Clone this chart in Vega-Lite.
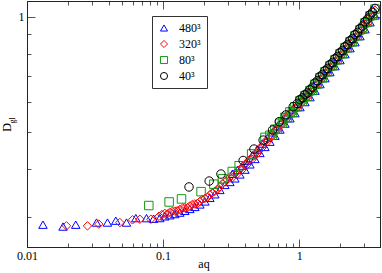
{
  "$schema": "https://vega.github.io/schema/vega-lite/v6.json",
  "width": 353,
  "height": 246,
  "autosize": {"type": "none"},
  "padding": {"left": 27, "top": 1, "right": 2, "bottom": 26},
  "background": "white",
  "config": {
    "view": {"stroke": "#222", "strokeWidth": 1},
    "font": "Liberation Serif",
    "axis": {
      "labelFont": "Liberation Serif",
      "labelFontSize": 12,
      "labelColor": "#000",
      "titleFont": "Liberation Serif",
      "titleFontSize": 12,
      "titleFontWeight": "normal",
      "titleColor": "#000",
      "domainColor": "#222",
      "tickColor": "#555",
      "grid": false
    }
  },
  "data": {
    "values": [
      {"L": "480³", "aq": 0.0131, "D": 0.287},
      {"L": "480³", "aq": 0.0184, "D": 0.2838},
      {"L": "480³", "aq": 0.0228, "D": 0.287},
      {"L": "480³", "aq": 0.0324, "D": 0.2907},
      {"L": "480³", "aq": 0.039, "D": 0.2907},
      {"L": "480³", "aq": 0.0449, "D": 0.294},
      {"L": "480³", "aq": 0.0538, "D": 0.2907},
      {"L": "480³", "aq": 0.063, "D": 0.2985},
      {"L": "480³", "aq": 0.0755, "D": 0.2985},
      {"L": "480³", "aq": 0.085, "D": 0.2975},
      {"L": "480³", "aq": 0.0946, "D": 0.2986},
      {"L": "480³", "aq": 0.1029, "D": 0.3017},
      {"L": "480³", "aq": 0.112, "D": 0.3037},
      {"L": "480³", "aq": 0.1219, "D": 0.3059},
      {"L": "480³", "aq": 0.1327, "D": 0.3086},
      {"L": "480³", "aq": 0.1444, "D": 0.3118},
      {"L": "480³", "aq": 0.1572, "D": 0.3154},
      {"L": "480³", "aq": 0.171, "D": 0.3193},
      {"L": "480³", "aq": 0.1862, "D": 0.3241},
      {"L": "480³", "aq": 0.2026, "D": 0.33},
      {"L": "480³", "aq": 0.2205, "D": 0.3371},
      {"L": "480³", "aq": 0.2399, "D": 0.3445},
      {"L": "480³", "aq": 0.2611, "D": 0.3536},
      {"L": "480³", "aq": 0.2842, "D": 0.3644},
      {"L": "480³", "aq": 0.3093, "D": 0.3709},
      {"L": "480³", "aq": 0.3227, "D": 0.3896},
      {"L": "480³", "aq": 0.3366, "D": 0.379},
      {"L": "480³", "aq": 0.3511, "D": 0.3986},
      {"L": "480³", "aq": 0.3664, "D": 0.3881},
      {"L": "480³", "aq": 0.3822, "D": 0.4091},
      {"L": "480³", "aq": 0.3988, "D": 0.3994},
      {"L": "480³", "aq": 0.416, "D": 0.4217},
      {"L": "480³", "aq": 0.434, "D": 0.4123},
      {"L": "480³", "aq": 0.4528, "D": 0.4355},
      {"L": "480³", "aq": 0.4723, "D": 0.4259},
      {"L": "480³", "aq": 0.4927, "D": 0.4507},
      {"L": "480³", "aq": 0.514, "D": 0.4415},
      {"L": "480³", "aq": 0.5362, "D": 0.4672},
      {"L": "480³", "aq": 0.5594, "D": 0.4578},
      {"L": "480³", "aq": 0.5836, "D": 0.4832},
      {"L": "480³", "aq": 0.6088, "D": 0.4724},
      {"L": "480³", "aq": 0.6351, "D": 0.4998},
      {"L": "480³", "aq": 0.6626, "D": 0.4897},
      {"L": "480³", "aq": 0.6912, "D": 0.5184},
      {"L": "480³", "aq": 0.7211, "D": 0.5083},
      {"L": "480³", "aq": 0.7522, "D": 0.5377},
      {"L": "480³", "aq": 0.7848, "D": 0.5267},
      {"L": "480³", "aq": 0.8187, "D": 0.556},
      {"L": "480³", "aq": 0.8541, "D": 0.5436},
      {"L": "480³", "aq": 0.891, "D": 0.5738},
      {"L": "480³", "aq": 0.9297, "D": 0.5608},
      {"L": "480³", "aq": 0.9699, "D": 0.5935},
      {"L": "480³", "aq": 1.0118, "D": 0.5816},
      {"L": "480³", "aq": 1.0555, "D": 0.6135},
      {"L": "480³", "aq": 1.1011, "D": 0.5993},
      {"L": "480³", "aq": 1.1487, "D": 0.6321},
      {"L": "480³", "aq": 1.1984, "D": 0.6174},
      {"L": "480³", "aq": 1.2502, "D": 0.6542},
      {"L": "480³", "aq": 1.3043, "D": 0.6419},
      {"L": "480³", "aq": 1.3607, "D": 0.6803},
      {"L": "480³", "aq": 1.4195, "D": 0.6676},
      {"L": "480³", "aq": 1.4808, "D": 0.7062},
      {"L": "480³", "aq": 1.5453, "D": 0.6919},
      {"L": "480³", "aq": 1.6121, "D": 0.7321},
      {"L": "480³", "aq": 1.6818, "D": 0.7174},
      {"L": "480³", "aq": 1.7544, "D": 0.759},
      {"L": "480³", "aq": 1.8302, "D": 0.7437},
      {"L": "480³", "aq": 1.9093, "D": 0.7869},
      {"L": "480³", "aq": 1.992, "D": 0.7712},
      {"L": "480³", "aq": 2.0781, "D": 0.8159},
      {"L": "480³", "aq": 2.1677, "D": 0.7993},
      {"L": "480³", "aq": 2.2613, "D": 0.8456},
      {"L": "480³", "aq": 2.3595, "D": 0.8285},
      {"L": "480³", "aq": 2.4614, "D": 0.8766},
      {"L": "480³", "aq": 2.5677, "D": 0.8589},
      {"L": "480³", "aq": 2.6786, "D": 0.9088},
      {"L": "480³", "aq": 2.7943, "D": 0.8905},
      {"L": "480³", "aq": 2.915, "D": 0.9607},
      {"L": "480³", "aq": 3.0412, "D": 0.9283},
      {"L": "480³", "aq": 3.1726, "D": 1.0017},
      {"L": "480³", "aq": 3.3105, "D": 0.9681},
      {"L": "480³", "aq": 3.4535, "D": 1.0443},
      {"L": "480³", "aq": 3.6028, "D": 1.0088},

      {"L": "320³", "aq": 0.0195, "D": 0.285},
      {"L": "320³", "aq": 0.0278, "D": 0.285},
      {"L": "320³", "aq": 0.0337, "D": 0.288},
      {"L": "320³", "aq": 0.0481, "D": 0.2907},
      {"L": "320³", "aq": 0.0596, "D": 0.2955},
      {"L": "320³", "aq": 0.0675, "D": 0.2965},
      {"L": "320³", "aq": 0.0813, "D": 0.2965},
      {"L": "320³", "aq": 0.0932, "D": 0.302},
      {"L": "320³", "aq": 0.098, "D": 0.305},
      {"L": "320³", "aq": 0.1029, "D": 0.3072},
      {"L": "320³", "aq": 0.107, "D": 0.306},
      {"L": "320³", "aq": 0.112, "D": 0.3093},
      {"L": "320³", "aq": 0.117, "D": 0.311},
      {"L": "320³", "aq": 0.1219, "D": 0.3115},
      {"L": "320³", "aq": 0.127, "D": 0.312},
      {"L": "320³", "aq": 0.1327, "D": 0.3143},
      {"L": "320³", "aq": 0.139, "D": 0.317},
      {"L": "320³", "aq": 0.1444, "D": 0.3175},
      {"L": "320³", "aq": 0.151, "D": 0.318},
      {"L": "320³", "aq": 0.1572, "D": 0.3212},
      {"L": "320³", "aq": 0.164, "D": 0.324},
      {"L": "320³", "aq": 0.171, "D": 0.3251},
      {"L": "320³", "aq": 0.178, "D": 0.326},
      {"L": "320³", "aq": 0.1862, "D": 0.33},
      {"L": "320³", "aq": 0.194, "D": 0.334},
      {"L": "320³", "aq": 0.2026, "D": 0.336},
      {"L": "320³", "aq": 0.211, "D": 0.338},
      {"L": "320³", "aq": 0.2205, "D": 0.3433},
      {"L": "320³", "aq": 0.23, "D": 0.348},
      {"L": "320³", "aq": 0.2399, "D": 0.3508},
      {"L": "320³", "aq": 0.25, "D": 0.354},
      {"L": "320³", "aq": 0.2611, "D": 0.3601},
      {"L": "320³", "aq": 0.272, "D": 0.367},
      {"L": "320³", "aq": 0.2842, "D": 0.3711},
      {"L": "320³", "aq": 0.296, "D": 0.376},
      {"L": "320³", "aq": 0.3093, "D": 0.3824},
      {"L": "320³", "aq": 0.3227, "D": 0.3807},
      {"L": "320³", "aq": 0.3366, "D": 0.3907},
      {"L": "320³", "aq": 0.3511, "D": 0.3895},
      {"L": "320³", "aq": 0.3664, "D": 0.4001},
      {"L": "320³", "aq": 0.3822, "D": 0.3998},
      {"L": "320³", "aq": 0.3988, "D": 0.4118},
      {"L": "320³", "aq": 0.416, "D": 0.4121},
      {"L": "320³", "aq": 0.434, "D": 0.4251},
      {"L": "320³", "aq": 0.4528, "D": 0.4255},
      {"L": "320³", "aq": 0.4723, "D": 0.4391},
      {"L": "320³", "aq": 0.4927, "D": 0.4404},
      {"L": "320³", "aq": 0.514, "D": 0.4552},
      {"L": "320³", "aq": 0.5362, "D": 0.4566},
      {"L": "320³", "aq": 0.5594, "D": 0.472},
      {"L": "320³", "aq": 0.5836, "D": 0.4722},
      {"L": "320³", "aq": 0.6088, "D": 0.487},
      {"L": "320³", "aq": 0.6351, "D": 0.4884},
      {"L": "320³", "aq": 0.6626, "D": 0.5048},
      {"L": "320³", "aq": 0.6912, "D": 0.5066},
      {"L": "320³", "aq": 0.7211, "D": 0.524},
      {"L": "320³", "aq": 0.7522, "D": 0.5254},
      {"L": "320³", "aq": 0.7848, "D": 0.543},
      {"L": "320³", "aq": 0.8187, "D": 0.5433},
      {"L": "320³", "aq": 0.8541, "D": 0.5604},
      {"L": "320³", "aq": 0.891, "D": 0.5607},
      {"L": "320³", "aq": 0.9297, "D": 0.5781},
      {"L": "320³", "aq": 0.9699, "D": 0.58},
      {"L": "320³", "aq": 1.0118, "D": 0.5996},
      {"L": "320³", "aq": 1.0555, "D": 0.5995},
      {"L": "320³", "aq": 1.1011, "D": 0.6178},
      {"L": "320³", "aq": 1.1487, "D": 0.6177},
      {"L": "320³", "aq": 1.1984, "D": 0.6365},
      {"L": "320³", "aq": 1.2502, "D": 0.6393},
      {"L": "320³", "aq": 1.3043, "D": 0.6618},
      {"L": "320³", "aq": 1.3607, "D": 0.6648},
      {"L": "320³", "aq": 1.4195, "D": 0.6882},
      {"L": "320³", "aq": 1.4808, "D": 0.6901},
      {"L": "320³", "aq": 1.5453, "D": 0.7133},
      {"L": "320³", "aq": 1.6121, "D": 0.7154},
      {"L": "320³", "aq": 1.6818, "D": 0.7396},
      {"L": "320³", "aq": 1.7544, "D": 0.7417},
      {"L": "320³", "aq": 1.8302, "D": 0.7667},
      {"L": "320³", "aq": 1.9093, "D": 0.769},
      {"L": "320³", "aq": 1.992, "D": 0.795},
      {"L": "320³", "aq": 2.0781, "D": 0.7973},
      {"L": "320³", "aq": 2.1677, "D": 0.824},
      {"L": "320³", "aq": 2.2613, "D": 0.8263},
      {"L": "320³", "aq": 2.3595, "D": 0.8541},
      {"L": "320³", "aq": 2.4614, "D": 0.8566},
      {"L": "320³", "aq": 2.5677, "D": 0.8855},
      {"L": "320³", "aq": 2.6786, "D": 0.8881},
      {"L": "320³", "aq": 2.7943, "D": 0.918},
      {"L": "320³", "aq": 2.915, "D": 0.9232},
      {"L": "320³", "aq": 3.0412, "D": 0.957},
      {"L": "320³", "aq": 3.1726, "D": 0.9627},
      {"L": "320³", "aq": 3.3105, "D": 0.998},
      {"L": "320³", "aq": 3.4535, "D": 1.0035},
      {"L": "320³", "aq": 3.6028, "D": 1.04},

      {"L": "80³", "aq": 0.0785, "D": 0.322},
      {"L": "80³", "aq": 0.1107, "D": 0.329},
      {"L": "80³", "aq": 0.1365, "D": 0.335},
      {"L": "80³", "aq": 0.19, "D": 0.35},
      {"L": "80³", "aq": 0.236, "D": 0.366},
      {"L": "80³", "aq": 0.273, "D": 0.378},
      {"L": "80³", "aq": 0.322, "D": 0.395},
      {"L": "80³", "aq": 0.362, "D": 0.409},
      {"L": "80³", "aq": 0.447, "D": 0.439},
      {"L": "80³", "aq": 0.56, "D": 0.485},
      {"L": "80³", "aq": 0.6088, "D": 0.491},
      {"L": "80³", "aq": 0.6351, "D": 0.4909},
      {"L": "80³", "aq": 0.6626, "D": 0.509},
      {"L": "80³", "aq": 0.6912, "D": 0.5092},
      {"L": "80³", "aq": 0.7211, "D": 0.528},
      {"L": "80³", "aq": 0.7522, "D": 0.5281},
      {"L": "80³", "aq": 0.7848, "D": 0.547},
      {"L": "80³", "aq": 0.8187, "D": 0.5461},
      {"L": "80³", "aq": 0.8541, "D": 0.565},
      {"L": "80³", "aq": 0.891, "D": 0.5635},
      {"L": "80³", "aq": 0.9297, "D": 0.583},
      {"L": "80³", "aq": 0.9699, "D": 0.5829},
      {"L": "80³", "aq": 1.0118, "D": 0.604},
      {"L": "80³", "aq": 1.0555, "D": 0.6025},
      {"L": "80³", "aq": 1.1011, "D": 0.623},
      {"L": "80³", "aq": 1.1487, "D": 0.6208},
      {"L": "80³", "aq": 1.1984, "D": 0.642},
      {"L": "80³", "aq": 1.2502, "D": 0.6425},
      {"L": "80³", "aq": 1.3043, "D": 0.667},
      {"L": "80³", "aq": 1.3607, "D": 0.6682},
      {"L": "80³", "aq": 1.4195, "D": 0.694},
      {"L": "80³", "aq": 1.4808, "D": 0.6936},
      {"L": "80³", "aq": 1.5453, "D": 0.719},
      {"L": "80³", "aq": 1.6121, "D": 0.719},
      {"L": "80³", "aq": 1.6818, "D": 0.745},
      {"L": "80³", "aq": 1.7544, "D": 0.7455},
      {"L": "80³", "aq": 1.8302, "D": 0.773},
      {"L": "80³", "aq": 1.9093, "D": 0.7729},
      {"L": "80³", "aq": 1.992, "D": 0.801},
      {"L": "80³", "aq": 2.0781, "D": 0.8013},
      {"L": "80³", "aq": 2.1677, "D": 0.831},
      {"L": "80³", "aq": 2.2613, "D": 0.8305},
      {"L": "80³", "aq": 2.3595, "D": 0.861},
      {"L": "80³", "aq": 2.4614, "D": 0.8609},
      {"L": "80³", "aq": 2.5677, "D": 0.893},
      {"L": "80³", "aq": 2.6786, "D": 0.8926},
      {"L": "80³", "aq": 2.7943, "D": 0.925},
      {"L": "80³", "aq": 2.915, "D": 0.9279},
      {"L": "80³", "aq": 3.0412, "D": 0.965},
      {"L": "80³", "aq": 3.1726, "D": 0.9675},
      {"L": "80³", "aq": 3.3105, "D": 1.006},
      {"L": "80³", "aq": 3.4535, "D": 1.0086},
      {"L": "80³", "aq": 3.6028, "D": 1.048},

      {"L": "40³", "aq": 0.155, "D": 0.36},
      {"L": "40³", "aq": 0.218, "D": 0.373},
      {"L": "40³", "aq": 0.266, "D": 0.389},
      {"L": "40³", "aq": 0.387, "D": 0.422},
      {"L": "40³", "aq": 0.465, "D": 0.452},
      {"L": "40³", "aq": 0.543, "D": 0.477},
      {"L": "40³", "aq": 0.637, "D": 0.507},
      {"L": "40³", "aq": 0.713, "D": 0.533},
      {"L": "40³", "aq": 0.798, "D": 0.555},
      {"L": "40³", "aq": 0.903, "D": 0.583},
      {"L": "40³", "aq": 0.9699, "D": 0.5947},
      {"L": "40³", "aq": 1.0118, "D": 0.6086},
      {"L": "40³", "aq": 1.0555, "D": 0.6147},
      {"L": "40³", "aq": 1.1011, "D": 0.627},
      {"L": "40³", "aq": 1.1487, "D": 0.6334},
      {"L": "40³", "aq": 1.1984, "D": 0.646},
      {"L": "40³", "aq": 1.2502, "D": 0.6555},
      {"L": "40³", "aq": 1.3043, "D": 0.672},
      {"L": "40³", "aq": 1.3607, "D": 0.6816},
      {"L": "40³", "aq": 1.4195, "D": 0.699},
      {"L": "40³", "aq": 1.4808, "D": 0.7076},
      {"L": "40³", "aq": 1.5453, "D": 0.724},
      {"L": "40³", "aq": 1.6121, "D": 0.7336},
      {"L": "40³", "aq": 1.6818, "D": 0.751},
      {"L": "40³", "aq": 1.7544, "D": 0.7605},
      {"L": "40³", "aq": 1.8302, "D": 0.778},
      {"L": "40³", "aq": 1.9093, "D": 0.7885},
      {"L": "40³", "aq": 1.992, "D": 0.807},
      {"L": "40³", "aq": 2.0781, "D": 0.8175},
      {"L": "40³", "aq": 2.1677, "D": 0.836},
      {"L": "40³", "aq": 2.2613, "D": 0.8473},
      {"L": "40³", "aq": 2.3595, "D": 0.867},
      {"L": "40³", "aq": 2.4614, "D": 0.8783},
      {"L": "40³", "aq": 2.5677, "D": 0.899},
      {"L": "40³", "aq": 2.6786, "D": 0.9106},
      {"L": "40³", "aq": 2.7943, "D": 0.932},
      {"L": "40³", "aq": 2.915, "D": 0.9467},
      {"L": "40³", "aq": 3.0412, "D": 0.971},
      {"L": "40³", "aq": 3.1726, "D": 0.9871},
      {"L": "40³", "aq": 3.3105, "D": 1.012},
      {"L": "40³", "aq": 3.4535, "D": 1.029},
      {"L": "40³", "aq": 3.6028, "D": 1.052}
    ]
  },
  "layer": [
    {
      "mark": {"type": "point", "filled": false, "strokeWidth": 1, "size": 72, "opacity": 1},
      "encoding": {
        "x": {
          "field": "aq", "type": "quantitative",
          "scale": {"type": "log", "domain": [0.01, 3.92], "nice": false},
          "axis": {
            "orient": "bottom",
            "title": "aq",
            "titleY": 20,
            "titleBaseline": "alphabetic",
            "values": [0.01, 0.02, 0.03, 0.04, 0.05, 0.06, 0.07, 0.08, 0.09, 0.1, 0.2, 0.3, 0.4, 0.5, 0.6, 0.7, 0.8, 0.9, 1, 2, 3],
            "labelExpr": "datum.value == 1 ? '1' : datum.value == 0.1 ? '0.1' : datum.value == 0.01 ? '0.01' : ''",
            "tickSize": {"condition": {"test": "datum.value == 0.01 || datum.value == 0.1 || datum.value == 1", "value": -8}, "value": -4},
            "labelPadding": 11,
            "labelFlush": false,
            "labelOverlap": false
          }
        },
        "y": {
          "field": "D", "type": "quantitative",
          "scale": {"type": "log", "domain": [0.251, 1.1], "nice": false},
          "axis": {
            "orient": "left",
            "title": "D",
            "values": [0.3, 0.4, 0.5, 0.6, 0.7, 0.8, 0.9, 1],
            "labelExpr": "datum.value == 1 ? '1' : ''",
            "tickSize": {"condition": {"test": "datum.value == 1", "value": -8}, "value": -4},
            "labelPadding": 11,
            "labelFlush": false,
            "labelOverlap": false,
            "titleX": -17,
            "titleY": 126,
            "titleAngle": -90,
            "titleAlign": "center",
            "titleBaseline": "alphabetic"
          }
        },
        "color": {
          "field": "L", "type": "nominal",
          "scale": {"domain": ["480³", "320³", "80³", "40³"], "range": ["#0000ff", "#ff0000", "#109a10", "#000000"]},
          "legend": {
            "orient": "none",
            "legendX": 125,
            "legendY": 15,
            "title": null,
            "strokeColor": "#333",
            "fillColor": "white",
            "padding": 6,
            "labelFont": "Liberation Serif",
            "labelFontSize": 12,
            "labelColor": "#000",
            "labelOffset": 9,
            "rowPadding": 4,
            "symbolSize": 50,
            "symbolStrokeWidth": 1
          }
        },
        "shape": {
          "field": "L", "type": "nominal",
          "scale": {"domain": ["480³", "320³", "80³", "40³"], "range": ["triangle-up", "diamond", "square", "circle"]},
          "legend": null
        }
      }
    },
    {
      "mark": {"type": "point", "opacity": 0},
      "encoding": {
        "x": {
          "field": "aq", "type": "quantitative",
          "scale": {"type": "log", "domain": [0.01, 3.92], "nice": false},
          "axis": {
            "orient": "top",
            "title": "gl",
            "titleFontSize": 8,
            "titleAngle": -90,
            "titleX": -13,
            "titleY": 119,
            "titleAlign": "center",
            "titleBaseline": "alphabetic",
            "values": [0.01, 0.02, 0.03, 0.04, 0.05, 0.06, 0.07, 0.08, 0.09, 0.1, 0.2, 0.3, 0.4, 0.5, 0.6, 0.7, 0.8, 0.9, 1, 2, 3],
            "labels": false,
            "tickSize": {"condition": {"test": "datum.value == 0.01 || datum.value == 0.1 || datum.value == 1", "value": -8}, "value": -4}
          }
        },
        "y": {
          "field": "D", "type": "quantitative",
          "scale": {"type": "log", "domain": [0.251, 1.1], "nice": false},
          "axis": {
            "orient": "right",
            "title": null,
            "values": [0.3, 0.4, 0.5, 0.6, 0.7, 0.8, 0.9, 1],
            "labels": false,
            "tickSize": {"condition": {"test": "datum.value == 1", "value": -8}, "value": -4}
          }
        }
      }
    }
  ],
  "resolve": {"axis": {"x": "independent", "y": "independent"}}
}
